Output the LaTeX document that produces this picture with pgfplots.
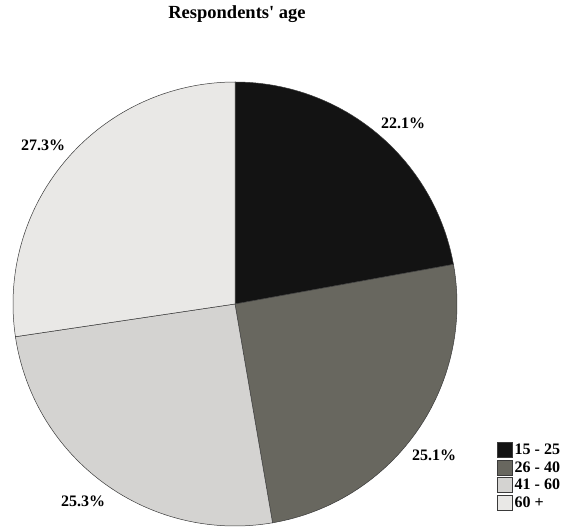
\documentclass[border=0pt]{standalone}
\usepackage{fontspec}
\setmainfont{Liberation Serif}
\usepackage{pgfplots}
\usepackage{pgfplotstable}
\pgfplotsset{compat=1.18}

\definecolor{ageA}{HTML}{131313}
\definecolor{ageB}{HTML}{68675F}
\definecolor{ageC}{HTML}{D4D3D1}
\definecolor{ageD}{HTML}{E9E8E6}
\definecolor{sliceedge}{HTML}{3A3A3A}

% age group, share in percent, fill, label position
\pgfplotstableread[col sep=comma]{
group,value,shade,lx,ly
15 - 25,22.1,ageA,403,405
26 - 40,25.1,ageB,434,73
41 - 60,25.3,ageC,83,27
60 +,27.3,ageD,43,383
}\agedata

\begin{document}
\begin{tikzpicture}
\begin{axis}[
  scale only axis, width=565pt, height=528pt,
  xmin=0, xmax=565, ymin=0, ymax=528,
  hide axis, clip=false,
  legend style={at={(axis cs:497,86)}, anchor=north west, draw=none, fill=none,
    inner sep=0pt, row sep=2pt,
    font=\fontsize{16}{17}\selectfont\bfseries,
    nodes={inner xsep=2pt, inner ysep=0pt}},
  legend cell align=left,
  legend image code/.code={\draw[#1, draw=sliceedge, line width=0.5pt] (0pt,-7.5pt) rectangle (15pt,7.5pt);},
]
\path (rel axis cs:0,0) rectangle (rel axis cs:1,1);

\pgfplotstablegetrowsof{\agedata}
\pgfmathtruncatemacro{\lastrow}{\pgfplotsretval-1}

% total of the rounded shares, so that the slices close the circle
\def\total{0}
\pgfplotsforeachungrouped \i in {0,...,\lastrow}{%
  \pgfplotstablegetelem{\i}{value}\of\agedata
  \pgfmathsetmacro{\newtotal}{\total+\pgfplotsretval}%
  \global\let\total\newtotal
}

\def\startang{90}
\pgfplotsforeachungrouped \i in {0,...,\lastrow}{%
  \pgfplotstablegetelem{\i}{value}\of\agedata \let\val\pgfplotsretval
  \pgfplotstablegetelem{\i}{shade}\of\agedata \let\col\pgfplotsretval
  \pgfplotstablegetelem{\i}{group}\of\agedata \let\lab\pgfplotsretval
  \pgfplotstablegetelem{\i}{lx}\of\agedata \let\lx\pgfplotsretval
  \pgfplotstablegetelem{\i}{ly}\of\agedata \let\ly\pgfplotsretval
  \pgfmathsetmacro{\span}{360*\val/\total}
  \edef\doslice{%
    \noexpand\addplot[fill=\col, draw=sliceedge, line width=0.5pt,
      domain=0:1, samples=120, variable=\noexpand\t]
      ({235+222*cos(\startang-\span*\noexpand\t)},
       {224+222*sin(\startang-\span*\noexpand\t)})
      -- (axis cs:235,224) -- cycle;
    \noexpand\addlegendentry{\lab}
    \noexpand\node[font=\noexpand\fontsize{16}{17}\noexpand\selectfont\noexpand\bfseries]
      at (axis cs:\lx,\ly) {\val\noexpand\%};
  }%
  \doslice
  \pgfmathsetmacro{\newang}{\startang-\span}%
  \global\let\startang\newang
}

\node[font=\fontsize{18.5}{20}\selectfont\bfseries] at (axis cs:237,514)
  {Respondents\textquotesingle{} age};
\end{axis}
\end{tikzpicture}
\end{document}
